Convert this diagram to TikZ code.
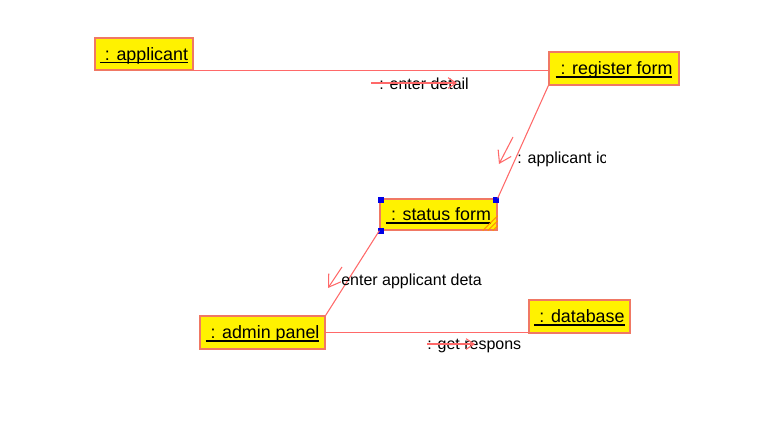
\documentclass[tikz,border=0pt]{standalone}
\usepackage{fontspec}
\setmainfont{Liberation Sans}
\usetikzlibrary{arrows.meta}
\definecolor{linecol}{RGB}{255,105,105}
\definecolor{boxcol}{RGB}{240,120,100}
\definecolor{hatchcol}{RGB}{255,150,0}
\definecolor{handlecol}{RGB}{0,0,230}
\newcommand\ulabel[1]{\setbox0=\hbox{#1}\rlap{\rule[-2pt]{\wd0}{1pt}}\box0}
\newcommand\objfont{\fontsize{13.4}{16}\selectfont}
\newcommand\msgfont{\fontsize{12}{14}\selectfont}
\tikzset{
  obj/.style={draw=boxcol, fill=yellow, line width=1pt, inner sep=0pt, text depth=0pt, font=\objfont},
  link/.style={draw=linecol, line width=0.8pt},
  msgarrow/.style={draw=linecol, line width=0.8pt, -{Straight Barb[length=6pt,width=8pt]}},
  msgarrowd/.style={draw=linecol, line width=0.8pt, -{Straight Barb[length=8.5pt,width=11pt]}},
  msglbl/.style={anchor=base west, inner sep=0pt, font=\msgfont}
}
\begin{document}
\begin{tikzpicture}[x=0.75pt,y=-0.75pt]
\useasboundingbox (0,0) rectangle (777,425);
% objects
\node[obj, minimum width=73.5pt, minimum height=24pt] (applicant) at (144,54) {\ulabel{\ : applicant}};
\node[obj, minimum width=97.5pt, minimum height=24.75pt] (register) at (614,68.5) {\ulabel{\ : register form}};
\node[obj, minimum width=87.75pt, minimum height=23.25pt] (status) at (438.5,214.5) {\ulabel{\ : status form}};
\node[obj, minimum width=93.75pt, minimum height=24.75pt] (admin) at (262.5,332.5) {\ulabel{\ : admin panel}};
\node[obj, minimum width=75.75pt, minimum height=24.75pt] (database) at (579.5,316.5) {\ulabel{\ : database}};
% status form decorations
\foreach \o in {5,10,15}
  \draw[hatchcol, line width=0.8pt] ([shift={(-\o,0)}]status.south east) -- ([shift={(0,-\o)}]status.south east);
\fill[handlecol] ([shift={(-1,-1)}]status.north west) rectangle ++(6,6);
\fill[handlecol] ([shift={(-5,-1)}]status.north east) rectangle ++(6,6);
\fill[handlecol] ([shift={(-1,-3)}]status.south west) rectangle ++(6,6);
% links
\draw[link] (applicant.south east) -- (applicant.south east -| register.west);
\draw[link] (register.south west) -- (status.north east);
\draw[link] (status.south west) -- (admin.north east);
\draw[link] (admin.east) -- (admin.east -| database.west);
% message arrows
\coordinate (m1s) at (371,83); \coordinate (m1e) at (457,83);
\coordinate (m2s) at (513,137); \coordinate (m2e) at (499,164);
\coordinate (m3s) at (342,267); \coordinate (m3e) at (328,288);
\coordinate (m4s) at (427,344); \coordinate (m4e) at (475,344);
% message labels
\node[msglbl] (l1) at (379,89) {: enter detail};
\begin{scope}
  \clip (505,140) rectangle (605,175);
  \node[msglbl] (l2) at (517,163) {: applicant ic};
\end{scope}
\node[msglbl] (l3) at (341,285) {enter applicant deta};
\node[msglbl] (l4) at (427,349) {: get respons};
\draw[msgarrow] (m1s) -- (m1e);
\draw[msgarrowd] (m2s) -- (m2e);
\draw[msgarrowd] (m3s) -- (m3e);
\draw[msgarrow] (m4s) -- (m4e);
\end{tikzpicture}
\end{document}
